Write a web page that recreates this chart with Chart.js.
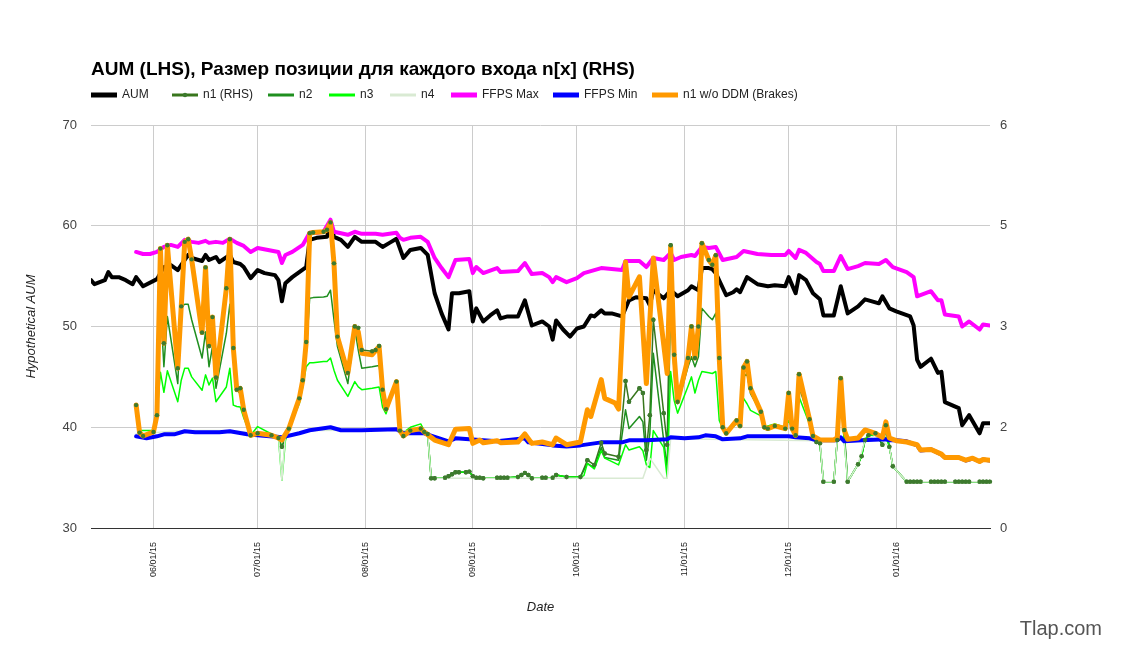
<!DOCTYPE html>
<html>
<head>
<meta charset="utf-8">
<script src="https://cdn.jsdelivr.net/npm/chart.js@4.4.1/dist/chart.umd.min.js"></script>
<style>
  html, body { margin: 0; padding: 0; background: #fff; }
</style>
</head>
<body>
<canvas id="aumChart" width="1124" height="654"></canvas>
<script>
// x values are days counted from 06/01/15 (day 0)
const tickDays = [0, 30, 61, 92, 122, 153, 183, 214];
const tickLabels = ['06/01/15', '07/01/15', '08/01/15', '09/01/15', '10/01/15', '11/01/15', '12/01/15', '01/01/16'];

const chartTitle = 'AUM (LHS), Размер позиции для каждого входа n[x] (RHS)';

// AUM (left axis)
const aumDays = [-18,-17,-14,-13,-12,-10,-8,-6,-5,-3,
  1,3,5,7,10,11,14,15,16,18,
  19,22,23,25,26,28,30,32,35,36,
  37,38,40,42,44,45,47,50,51,52,
  54,56,58,60,64,66,68,70,72,74,
  77,79,81,83,85,86,88,91,92,93,
  95,97,99,100,102,105,107,109,112,114,
  115,116,118,120,122,124,126,127,129,130,
  132,135,137,139,142,143,144,147,149,151,
  154,155,157,158,160,161,162,165,167,168,
  169,171,174,177,179,182,183,185,186,188,
  190,192,193,196,198,200,203,205,209,210,
  212,214,218,219,220,221,224,226,227,228,
  232,233,235,238,239,241];
const aumVals = [54.6,54.2,54.6,55.4,54.9,54.9,54.6,54.2,54.9,54.0,
  54.7,55.9,56.1,55.6,57.1,56.8,56.5,57.1,56.6,56.9,
  56.4,57.1,56.4,56.2,55.9,54.8,55.6,55.3,55.1,54.6,
  52.5,54.3,54.9,55.4,55.9,58.6,58.8,58.9,60.4,58.9,
  58.6,57.9,58.9,58.4,58.4,57.9,58.3,58.7,56.8,57.6,
  57.8,57.1,53.3,51.3,49.7,53.3,53.3,53.5,50.5,51.8,
  50.5,51.1,51.6,50.8,51.0,51.0,52.6,50.1,50.5,50.0,
  48.7,50.6,49.7,49.0,49.8,50.0,51.1,51.0,51.6,51.3,
  51.3,51.0,52.6,52.9,52.8,52.1,53.6,52.8,53.6,53.0,
  53.6,54.0,53.6,55.8,55.8,55.7,55.3,53.1,53.4,53.7,
  53.4,54.9,54.2,54.0,54.1,54.0,54.9,53.3,55.1,54.6,
  53.3,52.7,51.1,51.1,54.0,51.3,52.0,52.7,52.3,53.0,
  51.8,51.5,51.0,50.1,46.7,46.0,46.8,45.4,45.5,42.5,
  41.9,40.2,41.2,39.4,40.4,40.4];

// FFPS Max (left axis)
const maxDays = [-5,-3,-1,1,3,5,7,9,11,13,
  15,16,18,20,22,24,26,28,30,33,
  36,37,38,40,43,45,47,49,51,52,
  56,58,60,64,66,70,71,72,74,77,
  79,81,83,85,87,91,92,93,95,99,
  100,105,107,109,112,114,115,116,119,122,
  124,129,135,136,140,142,144,147,149,150,
  152,155,156,158,160,162,164,168,170,174,
  178,182,183,185,186,188,191,192,193,196,
  198,200,203,205,209,211,213,217,219,220,
  224,226,227,228,232,233,235,238,239,241];
const maxVals = [57.4,57.2,57.2,57.4,57.9,58.1,57.9,58.6,58.4,58.3,
  58.5,58.3,58.4,58.3,58.7,58.3,58.0,57.4,57.8,57.6,
  57.4,56.3,57.1,57.4,58.1,59.3,59.3,59.4,60.6,59.4,
  59.1,59.4,59.2,59.2,59.1,59.3,58.8,58.6,58.8,58.9,
  58.4,56.8,55.8,54.9,56.6,56.7,55.3,55.9,55.3,55.8,
  55.4,55.5,56.3,55.2,55.3,54.9,54.4,54.9,54.4,54.8,
  55.3,55.8,55.6,56.5,56.5,55.9,56.8,56.6,57.3,56.6,
  56.9,57.1,57.0,57.9,57.8,57.9,56.6,56.9,57.5,57.2,
  57.1,57.1,57.5,56.8,57.6,57.3,56.4,56.2,55.5,55.5,
  57.0,55.7,56.0,56.3,56.2,56.6,55.9,55.4,54.9,53.0,
  53.5,52.6,52.6,51.2,51.0,50.0,50.5,49.7,50.2,50.1];

// FFPS Min (left axis)
const minDays = [-5,-2,1,3,6,9,12,15,19,22,
  27,30,37,42,45,47,51,54,60,70,
  72,78,85,87,91,99,107,108,115,119,
  123,129,135,137,142,148,149,153,157,159,
  162,164,169,171,183,185,189,191,197,198,
  199,204,211,212,214,217,220,221,224,227,
  228,232,234,236,238,239,241];
const minVals = [39.1,38.9,39.1,39.3,39.3,39.6,39.5,39.5,39.5,39.6,
  39.3,39.2,39.0,39.4,39.7,39.8,40.0,39.7,39.7,39.8,
  39.4,39.4,38.6,38.9,38.8,38.6,38.9,38.5,38.2,38.1,
  38.2,38.5,38.5,38.7,38.7,38.8,39.0,38.9,39.0,39.2,
  39.1,38.8,38.9,39.1,39.1,39.0,38.9,38.7,38.7,39.0,
  38.6,38.7,38.8,38.7,38.7,38.6,38.2,37.7,37.8,37.3,
  37.0,37.0,36.7,36.9,36.6,36.8,36.7];

// n1 w/o DDM (Brakes) (right axis)
const brakeDays = [-5,-4,-3,0,1,2,3,4,7,8,
  9,10,11,14,15,16,17,18,21,22,
  23,24,25,26,28,30,34,36,37,39,
  42,43,44,45,46,49,50,51,52,53,
  56,58,59,60,63,65,66,67,70,71,
  72,74,77,78,81,85,87,91,92,94,
  95,99,100,105,107,109,112,115,116,119,
  123,125,126,129,130,133,134,136,137,140,
  142,144,148,149,150,151,154,155,156,157,
  158,160,161,162,163,164,165,168,169,170,
  171,172,175,176,177,179,182,183,184,185,
  186,189,190,191,192,196,197,198,199,200,
  203,205,208,210,211,212,214,217,220,221,
  224,227,228,232,234,236,238,239,241];
const brakeVals = [1.83,1.42,1.37,1.43,1.68,4.16,2.75,4.21,2.38,3.30,
  4.26,4.30,4.00,2.91,3.88,2.71,3.14,2.24,3.57,4.30,
  2.68,2.06,2.08,1.76,1.38,1.41,1.38,1.34,1.31,1.48,
  1.93,2.20,2.77,4.39,4.40,4.41,4.44,4.55,3.94,2.85,
  2.31,3.00,2.92,2.60,2.58,2.70,2.06,1.77,2.18,1.45,
  1.37,1.45,1.48,1.43,1.31,1.24,1.47,1.48,1.26,1.31,
  1.27,1.30,1.27,1.28,1.40,1.26,1.28,1.24,1.34,1.24,
  1.28,1.76,1.66,2.21,1.93,1.86,1.77,3.96,3.44,3.74,
  2.15,4.02,2.30,4.19,2.58,1.88,2.53,3.00,2.53,3.00,
  4.24,3.99,3.92,4.06,2.53,1.50,1.41,1.60,1.52,2.39,
  2.48,2.08,1.73,1.50,1.48,1.52,1.48,2.01,1.48,1.38,
  2.29,1.62,1.37,1.34,1.31,1.31,1.34,2.23,1.46,1.32,
  1.34,1.46,1.41,1.35,1.58,1.34,1.30,1.28,1.24,1.16,
  1.17,1.10,1.05,1.05,1.01,1.04,0.99,1.02,1.01];

// n1 (right axis)
const n1Days = [-5,-4,-3,0,1,2,3,4,7,8,
  9,10,11,14,15,16,17,18,21,22,
  23,24,25,26,28,30,34,36,37,39,
  42,43,44,45,46,49,50,51,52,53,
  56,58,59,60,63,64,65,66,67,70,
  71,72,74,77,78,79,80,81,84,85,
  86,87,88,90,91,92,93,94,95,99,
  100,101,102,105,106,107,108,109,112,113,
  115,116,119,123,125,127,129,130,134,136,
  137,140,141,142,143,144,147,148,149,150,
  151,154,155,156,157,158,160,161,162,163,
  164,165,168,169,170,171,172,175,176,177,
  179,182,183,184,185,186,189,190,191,192,
  193,196,197,198,199,200,203,204,205,206,
  208,210,211,212,213,217,218,219,220,221,
  224,225,226,227,228,231,232,233,234,235,
  238,239,240,241];
const n1Vals = [1.83,1.42,1.37,1.43,1.68,4.16,2.75,4.21,2.38,3.30,
  4.26,4.30,4.00,2.91,3.88,2.71,3.14,2.24,3.57,4.30,
  2.68,2.06,2.08,1.76,1.38,1.41,1.38,1.34,1.21,1.48,
  1.93,2.20,2.77,4.39,4.40,4.41,4.44,4.55,3.94,2.85,
  2.31,3.00,2.98,2.65,2.63,2.65,2.71,2.06,1.77,2.18,
  1.45,1.37,1.45,1.48,1.43,1.40,0.74,0.74,0.75,0.77,
  0.80,0.83,0.83,0.83,0.84,0.77,0.75,0.75,0.74,0.75,
  0.75,0.75,0.75,0.76,0.79,0.82,0.79,0.74,0.75,0.75,
  0.75,0.79,0.76,0.76,1.01,0.94,1.27,1.11,1.06,2.19,
  1.88,2.08,2.01,1.16,1.68,3.10,1.71,1.24,4.21,2.58,
  1.88,2.53,3.00,2.53,3.00,4.24,3.99,3.92,4.06,2.53,
  1.50,1.41,1.60,1.52,2.39,2.48,2.08,1.73,1.50,1.48,
  1.52,1.48,2.01,1.48,1.38,2.29,1.62,1.37,1.28,1.26,
  0.69,0.69,1.31,2.23,1.46,0.69,0.95,1.07,1.31,1.38,
  1.41,1.24,1.53,1.21,0.92,0.69,0.69,0.69,0.69,0.69,
  0.69,0.69,0.69,0.69,0.69,0.69,0.69,0.69,0.69,0.69,
  0.69,0.69,0.69,0.69];

// n2 (right axis)
const n2Days = [-5,-4,-3,0,1,2,3,4,7,8,
  9,10,11,14,15,16,17,18,21,22,
  23,24,25,26,28,30,34,36,37,39,
  42,43,44,45,46,49,50,51,52,53,
  56,58,59,60,63,65,66,67,70,71,
  72,74,77,78,79,80,81,84,85,86,
  87,88,90,91,92,93,95,99,102,105,
  106,107,108,109,112,115,116,119,123,125,
  127,129,130,134,136,137,140,141,142,143,
  144,147,148,149,150,151,154,155,156,157,
  158,160,161,162,163,164,165,168,169,170,
  171,172,175,176,177,179,182,183,184,185,
  186,189,190,191,192,193,196,197,198,199,
  200,203,204,205,206,208,210,211,212,213,
  217,241];
const n2Vals = [1.83,1.42,1.37,1.43,1.68,3.34,2.40,3.15,2.15,3.30,
  3.33,3.33,3.10,2.53,2.92,2.40,2.70,2.08,2.90,3.33,
  2.70,2.06,2.00,1.76,1.38,1.41,1.38,1.34,1.21,1.48,
  1.93,2.20,2.60,3.42,3.43,3.44,3.45,3.54,3.10,2.70,
  2.15,2.97,2.65,2.38,2.40,2.42,2.06,1.77,2.18,1.45,
  1.37,1.45,1.48,1.43,1.40,0.74,0.74,0.75,0.77,0.80,
  0.83,0.83,0.83,0.84,0.77,0.75,0.74,0.75,0.75,0.76,
  0.79,0.82,0.79,0.74,0.75,0.75,0.79,0.76,0.76,0.96,
  0.90,1.20,1.05,1.01,1.76,1.48,1.66,1.58,1.01,1.40,
  2.60,1.30,0.90,3.30,2.30,1.85,2.40,2.55,2.40,2.55,
  3.27,3.15,3.10,3.20,2.53,1.50,1.41,1.60,1.52,2.25,
  2.30,2.00,1.73,1.50,1.48,1.52,1.48,1.90,1.48,1.38,
  2.10,1.62,1.37,1.28,1.26,0.69,0.69,1.31,2.00,1.40,
  0.69,0.95,1.07,1.31,1.38,1.41,1.24,1.45,1.21,0.92,
  0.69,0.69];

// n3 (right axis)
const n3Days = [-5,-4,-3,0,1,2,3,4,7,8,
  9,10,11,14,15,16,17,18,21,22,
  23,24,25,26,28,30,34,36,37,38,
  39,42,43,44,45,46,49,50,51,52,
  53,56,58,59,60,63,65,66,67,70,
  71,72,74,77,78,79,80,81,84,85,
  86,87,88,90,91,92,93,95,99,102,
  105,106,107,108,109,112,115,116,119,123,
  124,125,127,129,130,134,136,137,140,141,
  142,143,144,147,148,149,150,151,154,155,
  156,157,158,160,161,162,163,164,165,168,
  169,170,171,172,175,176,177,179,182,183,
  184,185,186,189,190,191,192,193,196,197,
  198,199,200,203,204,205,206,208,210,211,
  212,213,217,241];
const n3Vals = [1.83,1.45,1.45,1.45,1.68,2.32,2.02,2.34,1.88,2.20,
  2.38,2.38,2.25,2.05,2.28,2.13,2.23,1.88,2.10,2.38,
  1.83,1.81,1.80,1.64,1.38,1.51,1.40,1.34,0.71,1.30,
  1.48,1.85,2.10,2.40,2.46,2.46,2.48,2.48,2.53,2.35,
  2.20,1.96,2.18,2.10,2.06,2.08,2.10,1.80,1.70,2.18,
  1.45,1.42,1.50,1.55,1.45,1.40,0.74,0.74,0.75,0.77,
  0.80,0.83,0.83,0.83,0.84,0.77,0.75,0.74,0.75,0.75,
  0.76,0.79,0.82,0.79,0.74,0.75,0.75,0.79,0.76,0.76,
  0.78,0.96,0.88,1.15,1.04,0.94,1.24,1.16,1.21,1.15,
  0.94,0.90,1.45,1.20,0.75,2.33,1.90,1.71,2.11,2.25,
  2.01,2.20,2.33,2.31,2.30,2.33,1.60,1.48,1.43,1.55,
  1.52,1.93,1.85,1.75,1.67,1.50,1.52,1.55,1.50,1.60,
  1.48,1.40,1.95,1.55,1.37,1.28,1.26,0.69,0.69,1.31,
  1.90,1.30,0.69,0.95,1.07,1.31,1.38,1.38,1.30,1.35,
  1.21,0.92,0.69,0.69];

// n4 (right axis)
const n4Days = [-5,0,9,22,30,36,37,38,45,70,
  79,80,141,143,147,148,149,192,193,196,
  197,199,200,203,205,208,212,213,217,241];
const n4Vals = [1.40,1.42,1.45,1.45,1.41,1.38,0.71,1.38,1.45,1.46,
  1.40,0.74,0.74,1.04,0.74,0.74,1.33,1.30,0.69,0.69,
  1.31,1.30,0.69,0.95,1.31,1.38,1.21,0.92,0.69,0.69];

// legend sample x positions (layout only)
const legendX = [91, 172, 268, 329, 390, 451, 553, 652];

const FONT = '"Liberation Sans", Arial, sans-serif';

function pts(days, vals) {
  return days.map((d, i) => ({ x: d, y: vals[i] }));
}

function series(label, days, vals, color, width, axis, order, legendWidth) {
  return {
    label: label,
    data: pts(days, vals),
    borderColor: color,
    backgroundColor: color,
    borderWidth: width,
    yAxisID: axis,
    order: order,
    pointRadius: 0,
    pointHoverRadius: 0,
    tension: 0,
    borderJoinStyle: 'round',
    borderCapStyle: 'round',
    legendWidth: legendWidth,
  };
}

const n1Set = series('n1 (RHS)', n1Days, n1Vals, '#38761d', 1.5, 'y1', 7, 3);
n1Set.pointRadius = 2.2;
n1Set.pointBackgroundColor = '#3d7a2e';
n1Set.pointBorderWidth = 0;

const datasets = [
  series('AUM', aumDays, aumVals, '#000000', 4, 'y', 8, 5),
  n1Set,
  series('n2', n2Days, n2Vals, '#1f8f1f', 1.5, 'y1', 6, 3),
  series('n3', n3Days, n3Vals, '#00ff00', 1.5, 'y1', 5, 3),
  series('n4', n4Days, n4Vals, '#d9ead3', 1.5, 'y1', 4, 3),
  series('FFPS Max', maxDays, maxVals, '#ff00ff', 4, 'y', 3, 5),
  series('FFPS Min', minDays, minVals, '#0000ff', 4, 'y', 2, 5),
  series('n1 w/o DDM (Brakes)', brakeDays, brakeVals, '#ff9900', 5, 'y1', 1, 5),
];

const decorations = {
  id: 'decorations',
  afterDatasetsDraw(chart) {
    // markers of n1 sit above every line, like the original
    const meta = chart.getDatasetMeta(1);
    meta.data.forEach(p => p.draw(chart.ctx, chart.chartArea));
  },
  afterDraw(chart) {
    const ctx = chart.ctx;
    const area = chart.chartArea;
    ctx.save();

    // title
    ctx.fillStyle = '#000';
    ctx.font = 'bold 19px ' + FONT;
    ctx.textAlign = 'left';
    ctx.textBaseline = 'alphabetic';
    ctx.fillText(chartTitle, 91, 75);

    // legend row
    ctx.font = '12px ' + FONT;
    ctx.textBaseline = 'middle';
    chart.data.datasets.forEach((ds, i) => {
      const x = legendX[i];
      const y = 95;
      ctx.strokeStyle = ds.borderColor;
      ctx.lineWidth = ds.legendWidth;
      ctx.beginPath();
      ctx.moveTo(x, y);
      ctx.lineTo(x + 26, y);
      ctx.stroke();
      if (ds.pointRadius > 0) {
        ctx.fillStyle = ds.pointBackgroundColor;
        ctx.beginPath();
        ctx.arc(x + 13, y, 2.2, 0, Math.PI * 2);
        ctx.fill();
      }
      ctx.fillStyle = '#222';
      ctx.fillText(ds.label, x + 31, y);
    });

    // axis titles
    ctx.font = 'italic 13px ' + FONT;
    ctx.fillStyle = '#222';
    ctx.textAlign = 'center';
    ctx.fillText('Date', (area.left + area.right) / 2, 607);
    ctx.save();
    ctx.translate(31, (area.top + area.bottom) / 2);
    ctx.rotate(-Math.PI / 2);
    ctx.fillText('Hypothetical AUM', 0, 0);
    ctx.restore();

    // watermark
    ctx.font = '20px ' + FONT;
    ctx.fillStyle = '#555';
    ctx.textAlign = 'right';
    ctx.fillText('Tlap.com', 1102, 629);

    ctx.restore();
  }
};

new Chart('aumChart', {
  type: 'line',
  data: { datasets: datasets },
  options: {
    responsive: false,
    animation: false,
    layout: { padding: { top: 125, left: 0, right: 0, bottom: 0 } },
    plugins: {
      legend: { display: false },
      title: { display: false },
      tooltip: { enabled: false },
    },
    scales: {
      x: {
        type: 'linear',
        min: -18,
        max: 241,
        afterBuildTicks: axis => { axis.ticks = tickDays.map(v => ({ value: v })); },
        afterFit: scale => { scale.height = 126; },
        grid: { color: '#cccccc', drawTicks: false },
        border: { color: '#333333', width: 1 },
        ticks: {
          autoSkip: false,
          minRotation: 90,
          maxRotation: 90,
          padding: 14,
          color: '#222',
          font: { family: FONT, size: 9 },
          callback: function(val) {
            const i = tickDays.indexOf(val);
            return i >= 0 ? tickLabels[i] : '';
          },
        },
      },
      y: {
        position: 'left',
        min: 30,
        max: 70,
        afterFit: scale => { scale.width = 91; },
        grid: { color: '#cccccc', drawTicks: false },
        border: { display: false },
        ticks: {
          stepSize: 10,
          padding: 14,
          color: '#444',
          font: { family: FONT, size: 13 },
        },
      },
      y1: {
        position: 'right',
        min: 0,
        max: 6,
        afterBuildTicks: axis => { axis.ticks = [0, 1.5, 3, 4.5, 6].map(v => ({ value: v })); },
        afterFit: scale => { scale.width = 134; },
        grid: { display: false, drawTicks: false },
        border: { display: false },
        ticks: {
          padding: 10,
          color: '#444',
          font: { family: FONT, size: 13 },
          callback: val => Math.round(val),
        },
      },
    },
  },
  plugins: [decorations],
});
</script>
</body>
</html>
